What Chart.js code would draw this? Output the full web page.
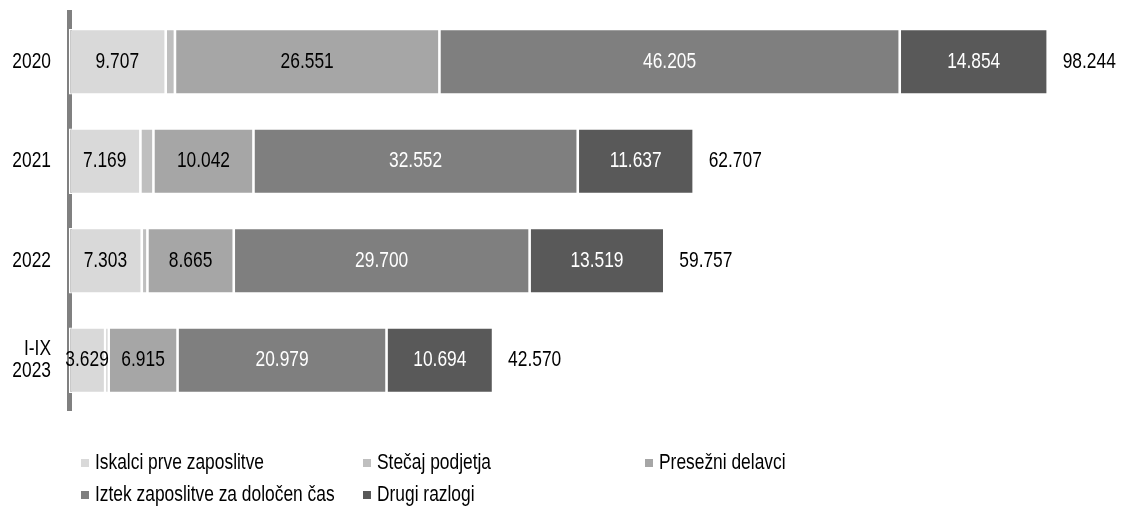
<!DOCTYPE html>
<html>
<head>
<meta charset="utf-8">
<script src="https://cdn.jsdelivr.net/npm/chart.js@4.4.1/dist/chart.umd.min.js"></script>
<style>
  html, body { margin: 0; padding: 0; background: #fff; }
  #c { display: block; }
</style>
</head>
<body>
<canvas id="c" width="1121" height="510"></canvas>
<script>
const categories = ["2020", "2021", "2022", "I-IX 2023"];
const categoryLines = [["2020"], ["2021"], ["2022"], ["I-IX", "2023"]];
const seriesNames = ["Iskalci prve zaposlitve", "Stečaj podjetja", "Presežni delavci", "Iztek zaposlitve za določen čas", "Drugi razlogi"];
const iskalci = [9707, 7169, 7303, 3629];
const stecaj = [927, 1307, 570, 353];
const presezni = [26551, 10042, 8665, 6915];
const iztek = [46205, 32552, 29700, 20979];
const drugi = [14854, 11637, 13519, 10694];
const totals = [98244, 62707, 59757, 42570];

const colors = ["#d9d9d9", "#bfbfbf", "#a6a6a6", "#7f7f7f", "#595959"];
const labelColors = ["#000", null, "#000", "#fff", "#fff"];
const FONT = '"Liberation Sans", Arial, sans-serif';
const FSIZE = 22;
const SQX = 0.79;

function fmt(v) {
  return String(v).replace(/\B(?=(\d{3})+(?!\d))/g, ".");
}

// draw horizontally condensed text (Arial Narrow look)
function narrowText(ctx, text, x, y, align) {
  ctx.save();
  ctx.font = FSIZE + "px " + FONT;
  ctx.textBaseline = "middle";
  const w = ctx.measureText(text).width * SQX;
  let left = x;
  if (align === "center") left = x - w / 2;
  else if (align === "right") left = x - w;
  ctx.translate(left, y);
  ctx.scale(SQX, 1);
  ctx.textAlign = "left";
  ctx.fillText(text, 0, 0);
  ctx.restore();
  return w;
}

const seriesData = [iskalci, stecaj, presezni, iztek, drugi];

const labelPlugin = {
  id: "labels",
  afterDatasetsDraw(chart) {
    const ctx = chart.ctx;
    chart.data.datasets.forEach((ds, di) => {
      if (!labelColors[di]) return;
      const meta = chart.getDatasetMeta(di);
      meta.data.forEach((bar, i) => {
        ctx.fillStyle = labelColors[di];
        narrowText(ctx, fmt(ds.data[i]), (bar.x + bar.base) / 2, bar.y, "center");
      });
    });
    const xs = chart.scales.x, ys = chart.scales.y;
    totals.forEach((t, i) => {
      ctx.fillStyle = "#000";
      narrowText(ctx, fmt(t), xs.getPixelForValue(t) + 15, ys.getPixelForValue(i), "left");
    });
    // category labels
    categoryLines.forEach((lines, i) => {
      const cy = ys.getPixelForValue(i);
      const lh = 22;
      const y0 = cy - (lines.length - 1) * lh / 2;
      lines.forEach((s, k) => {
        ctx.fillStyle = "#000";
        narrowText(ctx, s, 51, y0 + k * lh, "right");
      });
    });
  },
  afterDraw(chart) {
    const ctx = chart.ctx;
    const legendPos = [[81, 463], [363, 463], [645, 463], [81, 495], [363, 495]];
    seriesNames.forEach((n, i) => {
      const [x, y] = legendPos[i];
      ctx.fillStyle = colors[i];
      ctx.fillRect(x, y - 4, 8, 8);
      ctx.fillStyle = "#000";
      narrowText(ctx, n, x + 14, y, "left");
    });
  }
};

new Chart(document.getElementById("c"), {
  type: "bar",
  data: {
    labels: categories,
    datasets: seriesNames.map((n, i) => ({
      label: n,
      data: seriesData[i],
      backgroundColor: colors[i],
      borderColor: "#ffffff",
      borderWidth: 1.3,
      borderSkipped: false,
      barPercentage: 0.66,
      categoryPercentage: 1.0
    }))
  },
  options: {
    indexAxis: "y",
    responsive: false,
    animation: false,
    layout: { padding: { top: 12, bottom: 100, left: 0, right: 6 } },
    plugins: { legend: { display: false }, tooltip: { enabled: false } },
    scales: {
      x: { stacked: true, min: 0, max: 105000, display: false },
      y: {
        stacked: true,
        afterFit(scale) { scale.width = 69; },
        grid: { display: false, drawTicks: false },
        border: { display: true, color: "#808080", width: 5 },
        ticks: { display: false }
      }
    }
  },
  plugins: [labelPlugin]
});
</script>
</body>
</html>
